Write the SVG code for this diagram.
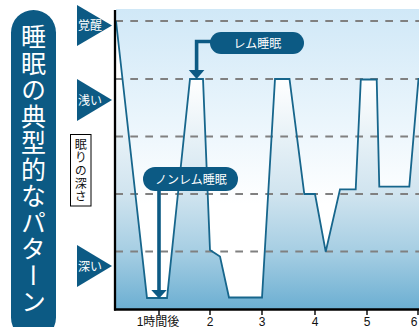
<svg xmlns="http://www.w3.org/2000/svg" width="419" height="327" viewBox="0 0 419 327">
<defs>
<style>
.jp{font-family:"Noto Sans CJK JP","Noto Sans",sans-serif;}
.w{fill:#ffffff;}
.navy{fill:#0c5a84;}
.dash{stroke:#808080;stroke-width:2;stroke-dasharray:7.7 7.3;fill:none;}
.curve{fill:none;stroke:#17668c;stroke-width:1.8;stroke-linejoin:miter;}
.conn{fill:none;stroke:#0c5a84;stroke-width:3.6;}
.axis{stroke:#000000;fill:none;}
.tick{font-family:"Liberation Sans","Noto Sans CJK JP",sans-serif;font-size:12px;fill:#111111;text-anchor:middle;}
</style>
<linearGradient id="bgGrad" gradientUnits="userSpaceOnUse" x1="0" y1="9" x2="0" y2="309">
<stop offset="0" stop-color="#d0e8f7"/>
<stop offset="0.45" stop-color="#f0f8fd"/>
<stop offset="0.65" stop-color="#ffffff"/>
<stop offset="1" stop-color="#ffffff"/>
</linearGradient>
<linearGradient id="underGrad" gradientUnits="userSpaceOnUse" x1="0" y1="79" x2="0" y2="309">
<stop offset="0" stop-color="#ffffff"/>
<stop offset="0.5" stop-color="#d0e4ef"/>
<stop offset="0.75" stop-color="#a6cee3"/>
<stop offset="1" stop-color="#6cafd2"/>
</linearGradient>
</defs>

<g id="title">
<rect class="navy" x="11" y="10" width="45" height="330" rx="22.5"/>
<text class="jp w" x="33.5" y="24" font-size="25" letter-spacing="1.5" style="writing-mode:vertical-rl">睡眠の典型的なパターン</text>
</g>

<g id="level-wake">
<polygon class="navy" points="77,5 112,25.5 77,46"/>
<text class="jp w" x="78" y="29.5" font-size="12">覚醒</text>
</g>
<g id="level-light">
<polygon class="navy" points="77,79 112,100 77,121"/>
<text class="jp w" x="78" y="104.5" font-size="12">浅い</text>
</g>
<g id="level-deep">
<polygon class="navy" points="77,245 112,266 77,287"/>
<text class="jp w" x="78" y="270.5" font-size="12">深い</text>
</g>

<g id="depth-label">
<rect x="70.5" y="134.5" width="20.5" height="71.5" fill="#ffffff" stroke="#000000" stroke-width="1"/>
<text class="jp" x="80.8" y="138" font-size="12" letter-spacing="1.2" fill="#111111" style="writing-mode:vertical-rl">眠りの深さ</text>
</g>

<g id="plot">
<rect x="116" y="9" width="303" height="300" fill="url(#bgGrad)"/>
<path fill="url(#underGrad)" d="M116,21 L147,298 L167,298 L190,79 L203,79 L210,250 L220,256.5 L229,297.5 L262,297.5 L275,79 L289.5,79 L304.3,194 L315,194 L325.7,251.7 L340,189.3 L355.7,189.3 L360.8,79.5 L376.7,79.5 L379.3,186.7 L409.3,186.7 L418.5,79 L421,79 L421,309 L116,309 Z"/>
<line class="dash" x1="115.3" y1="21" x2="419" y2="21"/>
<line class="dash" x1="115.3" y1="79" x2="419" y2="79"/>
<line class="dash" x1="115.3" y1="136.5" x2="419" y2="136.5"/>
<line class="dash" x1="115.3" y1="194" x2="419" y2="194"/>
<line class="dash" x1="115.3" y1="251.5" x2="419" y2="251.5"/>
<path class="curve" d="M116,21 L147,298 L167,298 L190,79 L203,79 L210,250 L220,256.5 L229,297.5 L262,297.5 L275,79 L289.5,79 L304.3,194 L315,194 L325.7,251.7 L340,189.3 L355.7,189.3 L360.8,79.5 L376.7,79.5 L379.3,186.7 L409.3,186.7 L418.5,79 L421,79"/>
<line class="axis" x1="115" y1="10" x2="115" y2="310.5" stroke-width="2.3"/>
<line class="axis" x1="114" y1="309.5" x2="419" y2="309.5" stroke-width="2.5"/>
<g class="axis" stroke-width="1.4">
<line x1="159" y1="309" x2="159" y2="315"/>
<line x1="210" y1="309" x2="210" y2="315"/>
<line x1="262" y1="309" x2="262" y2="315"/>
<line x1="315" y1="309" x2="315" y2="315"/>
<line x1="367" y1="309" x2="367" y2="315"/>
<line x1="418" y1="309" x2="418" y2="315"/>
</g>
<text class="tick" x="158" y="326">1時間後</text>
<text class="tick" x="210" y="326">2</text>
<text class="tick" x="262" y="326">3</text>
<text class="tick" x="315" y="326">4</text>
<text class="tick" x="367" y="326">5</text>
<text class="tick" x="414" y="326">6</text>
</g>

<g id="connectors">
<path class="conn" d="M211,41.5 L196.6,41.5 L196.6,71"/>
<polygon class="navy" points="188.8,70 204.4,70 196.6,79"/>
<path class="conn" stroke-width="4" d="M159,190 L159,291"/>
<polygon class="navy" points="151.3,290 166.7,290 159,298.5"/>
</g>

<g id="callout-rem">
<rect class="navy" x="210" y="32" width="94" height="22" rx="11"/>
<text class="jp w" x="257.5" y="47.5" font-size="12" text-anchor="middle">レム睡眠</text>
</g>
<g id="callout-nrem">
<rect class="navy" x="143" y="167" width="95" height="24" rx="12"/>
<text class="jp w" x="191" y="183.5" font-size="12" text-anchor="middle">ノンレム睡眠</text>
</g>
</svg>
